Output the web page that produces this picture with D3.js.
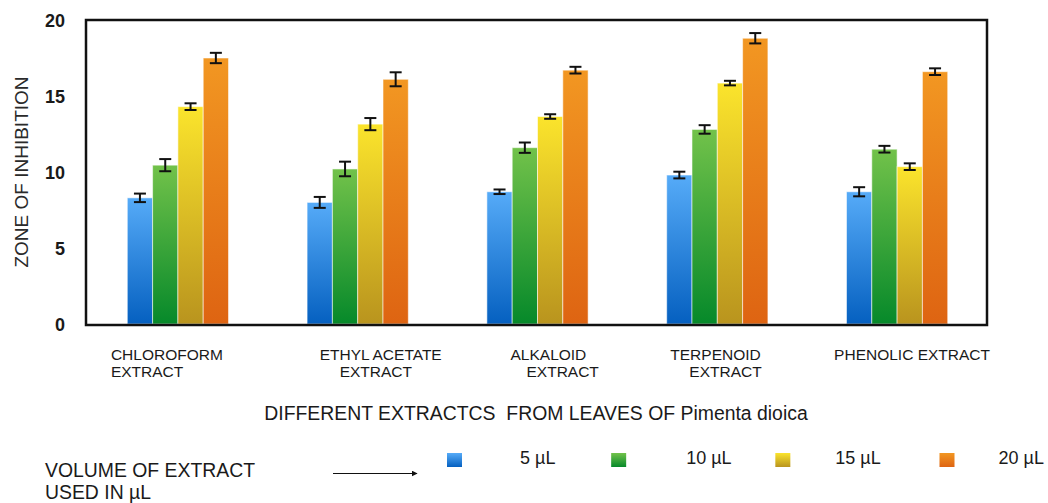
<!DOCTYPE html>
<html>
<head>
<meta charset="utf-8">
<script src="https://cdn.jsdelivr.net/npm/d3@7"></script>
<style>
  html, body { margin: 0; padding: 0; background: #fff; }
  svg { display: block; font-family: "Liberation Sans", Arial, sans-serif; }
</style>
</head>
<body>
<svg id="chart" width="1048" height="503"></svg>
<script>
// Extract types (each label split into its printed lines)
const categories = ["CHLOROFORM EXTRACT", "ETHYL ACETATE EXTRACT", "ALKALOID EXTRACT", "TERPENOID EXTRACT", "PHENOLIC EXTRACT"];
const categoryLines = [["CHLOROFORM", "EXTRACT"], ["ETHYL ACETATE", "EXTRACT"], ["ALKALOID", "EXTRACT"], ["TERPENOID", "EXTRACT"], ["PHENOLIC EXTRACT"]];

// Volumes of extract (series)
const volumes = ["5 µL", "10 µL", "15 µL", "20 µL"];

// Zone of inhibition per volume, one value per extract
const zone5  = [8.3, 8.0, 8.7, 9.8, 8.7];
const zone10 = [10.45, 10.2, 11.6, 12.8, 11.5];
const zone15 = [14.3, 13.15, 13.65, 15.85, 10.35];
const zone20 = [17.5, 16.1, 16.7, 18.8, 16.6];

// Standard errors
const err5  = [0.28, 0.36, 0.15, 0.22, 0.30];
const err10 = [0.40, 0.48, 0.34, 0.28, 0.22];
const err15 = [0.22, 0.40, 0.15, 0.15, 0.22];
const err20 = [0.34, 0.46, 0.22, 0.34, 0.22];

const yTicks = [0, 5, 10, 15, 20];

const seriesValues = [zone5, zone10, zone15, zone20];
const seriesErrors = [err5, err10, err15, err20];

// Gradient stops (top, bottom) for each series
const gradTop    = ["#56abf8", "#72c24a", "#fbe42c", "#f29722"];
const gradBottom = ["#0560c0", "#06892a", "#b9941e", "#de6412"];

// Horizontal offsets of each label line from its group centre
const labelIndent = [[-67, -67], [-38, -18], [-27, -11], [-47, -28], [-63]];
// Gap between each legend swatch and its text
const legendTextGap = [73, 75, 60, 59];

const svg = d3.select("#chart");
const frame = { left: 86, right: 987, top: 20, bottom: 324 };

const defs = svg.append("defs");
volumes.forEach((v, i) => {
  const g = defs.append("linearGradient")
    .attr("id", "grad" + i)
    .attr("x1", 0).attr("y1", 0).attr("x2", 0).attr("y2", 1);
  g.append("stop").attr("offset", "0%").attr("stop-color", gradTop[i]);
  g.append("stop").attr("offset", "100%").attr("stop-color", gradBottom[i]);
});

const x0 = d3.scaleBand()
  .domain(categories)
  .range([88, 987])
  .paddingInner(0.437)
  .paddingOuter(0.2185);

const x1 = d3.scaleBand()
  .domain(volumes)
  .range([0, x0.bandwidth()]);

const y = d3.scaleLinear()
  .domain([0, 20])
  .range([frame.bottom, frame.top]);

// Y tick labels
const yAxis = d3.axisLeft(y).tickValues(yTicks).tickSize(0).tickPadding(0);
const yg = svg.append("g")
  .attr("transform", "translate(65,1)")
  .call(yAxis);
yg.select(".domain").remove();
yg.selectAll("text")
  .attr("font-size", 18)
  .attr("font-weight", "bold")
  .attr("fill", "#1a1a1a")
  .attr("font-family", "'Liberation Sans', Arial, sans-serif");

// Bars
const groups = svg.append("g").selectAll("g")
  .data(categories)
  .join("g")
  .attr("transform", d => `translate(${x0(d)},0)`);

const barData = (c, ci) => volumes.map((v, si) => ({
  v, si, value: seriesValues[si][ci], err: seriesErrors[si][ci]
}));

groups.each(function (c, ci) {
  const g = d3.select(this);
  const data = barData(c, ci);
  g.selectAll("rect")
    .data(data)
    .join("rect")
    .attr("x", d => x1(d.v))
    .attr("y", d => y(d.value))
    .attr("width", x1.bandwidth())
    .attr("height", d => y(0) - y(d.value))
    .attr("fill", d => `url(#grad${d.si})`)
    .attr("stroke", "rgba(255,255,255,0.55)")
    .attr("stroke-width", 1);

  // Error bars
  const eb = g.selectAll("g.err")
    .data(data)
    .join("g")
    .attr("class", "err")
    .attr("stroke", "#111")
    .attr("stroke-width", 2);
  const cx = d => x1(d.v) + x1.bandwidth() / 2;
  eb.append("line")
    .attr("x1", cx).attr("x2", cx)
    .attr("y1", d => y(d.value + d.err)).attr("y2", d => y(d.value - d.err));
  eb.append("line")
    .attr("x1", d => cx(d) - 6).attr("x2", d => cx(d) + 6)
    .attr("y1", d => y(d.value + d.err)).attr("y2", d => y(d.value + d.err));
  eb.append("line")
    .attr("x1", d => cx(d) - 6).attr("x2", d => cx(d) + 6)
    .attr("y1", d => y(d.value - d.err)).attr("y2", d => y(d.value - d.err));
});

// Plot frame
svg.append("rect")
  .attr("x", frame.left).attr("y", frame.top)
  .attr("width", frame.right - frame.left)
  .attr("height", frame.bottom + 1 - frame.top)
  .attr("fill", "none")
  .attr("stroke", "#111")
  .attr("stroke-width", 2.5);

// Category labels
const catG = svg.append("g")
  .attr("font-size", 15.5)
  .attr("fill", "#1a1a1a");
categories.forEach((c, ci) => {
  const center = x0(c) + x0.bandwidth() / 2;
  categoryLines[ci].forEach((line, li) => {
    catG.append("text")
      .attr("x", center + labelIndent[ci][li])
      .attr("y", 360 + li * 16.7)
      .text(line);
  });
});

// Y axis title
svg.append("text")
  .attr("transform", "translate(28,172) rotate(-90)")
  .attr("text-anchor", "middle")
  .attr("font-size", 19)
  .attr("fill", "#2a2a2a")
  .text("ZONE OF INHIBITION");

// X axis title
svg.append("text")
  .attr("x", 536)
  .attr("y", 419.5)
  .attr("text-anchor", "middle")
  .attr("font-size", 19.4)
  .attr("fill", "#1a1a1a")
  .style("white-space", "pre")
  .text("DIFFERENT EXTRACTCS  FROM LEAVES OF Pimenta dioica");

// Legend caption
const cap = svg.append("text")
  .attr("font-size", 19.4)
  .attr("fill", "#1a1a1a");
cap.append("tspan").attr("x", 45).attr("y", 477).text("VOLUME OF EXTRACT");
cap.append("tspan").attr("x", 45).attr("y", 499).text("USED IN µL");

// Arrow
defs.append("marker")
  .attr("id", "arrowhead")
  .attr("viewBox", "0 0 10 10")
  .attr("refX", 9).attr("refY", 5)
  .attr("markerWidth", 5).attr("markerHeight", 5)
  .attr("orient", "auto")
  .append("path")
  .attr("d", "M0,0 L10,5 L0,10 Z")
  .attr("fill", "#111");
svg.append("line")
  .attr("x1", 333).attr("x2", 417)
  .attr("y1", 473.5).attr("y2", 473.5)
  .attr("stroke", "#111")
  .attr("stroke-width", 1.2)
  .attr("marker-end", "url(#arrowhead)");

// Legend entries
const legendX = d3.scalePoint()
  .domain(volumes)
  .range([447, 939.5]);
const leg = svg.append("g").selectAll("g")
  .data(volumes)
  .join("g")
  .attr("transform", d => `translate(${legendX(d)},0)`);
leg.append("rect")
  .attr("x", 0).attr("y", 453)
  .attr("width", 15).attr("height", 14)
  .attr("fill", (d, i) => `url(#grad${i})`);
leg.append("text")
  .attr("x", (d, i) => legendTextGap[i])
  .attr("y", 463.5)
  .attr("font-size", 18)
  .attr("fill", "#1a1a1a")
  .text(d => d);
</script>
</body>
</html>
